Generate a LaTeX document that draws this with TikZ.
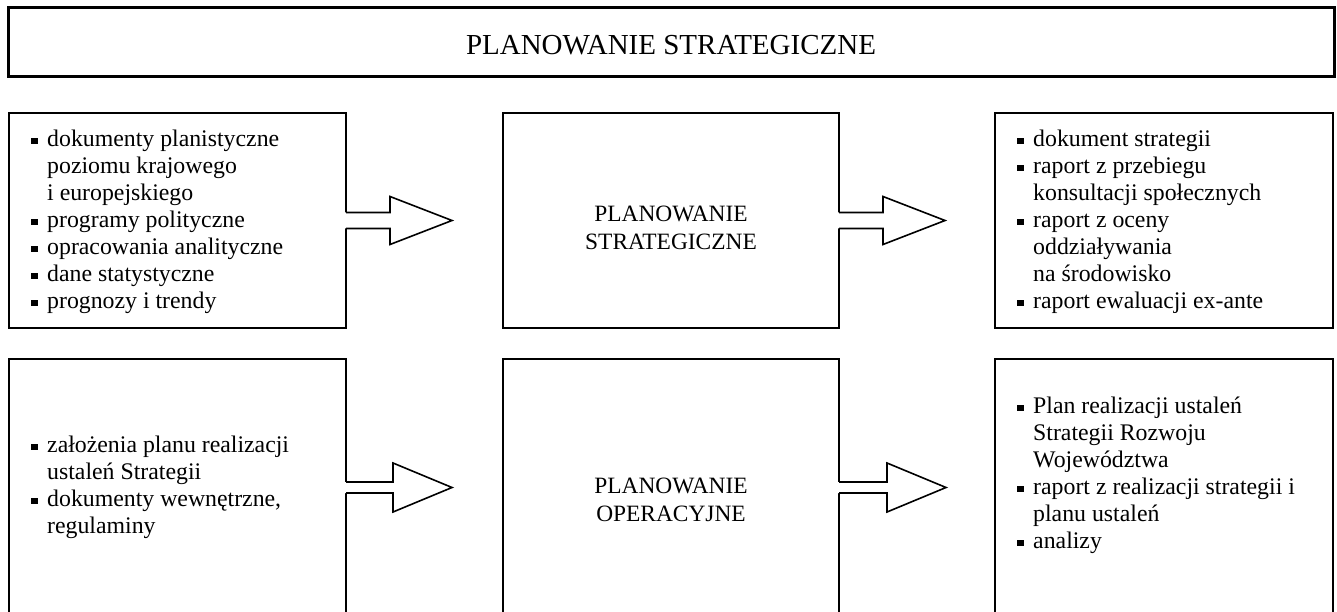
\documentclass[tikz,border=0pt]{standalone}
\usepackage{fontspec}
\setmainfont{Liberation Serif}
\usetikzlibrary{calc}

\newcommand{\itm}{\makebox[16pt][l]{\raisebox{2.5pt}{\rule{6.5pt}{6.5pt}}}}
\newcommand{\ind}{\hspace*{16pt}}

\begin{document}
\begin{tikzpicture}[x=1pt,y=-1pt,
  box/.style={draw,line width=1.6pt,outer sep=0pt,inner sep=0pt},
  listtext/.style={align=left,inner sep=0pt,anchor=west,font=\fontsize{23.8}{27}\selectfont},
  midtext/.style={align=center,inner sep=0pt,font=\fontsize{23.4}{28}\selectfont},
  arrowline/.style={line width=1.6pt,line join=miter}]

\useasboundingbox (0,0) rectangle (1337,612);
\clip (0,0) rectangle (1337,612);
\fill[white] (0,0) rectangle (1337,612);

% title
\node[box,line width=3pt,minimum width=1326pt,minimum height=69pt] (title) at (671,42.5) {};
\node[font=\fontsize{29}{32}\selectfont,inner sep=0pt] (titletxt) at (671,45) {PLANOWANIE STRATEGICZNE};

% strategic row
\node[box,minimum width=337pt,minimum height=215pt] (inS) at (177.5,220.5) {};
\node[listtext] (inStxt) at ($(inS.west)+(22,1.5)$)
  {\itm dokumenty planistyczne\\\ind poziomu krajowego\\\ind i europejskiego\\
   \itm programy polityczne\\\itm opracowania analityczne\\
   \itm dane statystyczne\\\itm prognozy i trendy};
\node[box,minimum width=336pt,minimum height=215pt] (planS) at (671,220.5) {};
\node[midtext] (planStxt) at (671,228) {PLANOWANIE\\STRATEGICZNE};
\node[box,minimum width=338pt,minimum height=215pt] (outS) at (1164,220.5) {};
\node[listtext] (outStxt) at ($(outS.west)+(22,1.5)$)
  {\itm dokument strategii\\\itm raport z przebiegu\\\ind konsultacji społecznych\\
   \itm raport z oceny\\\ind oddziaływania\\\ind na środowisko\\
   \itm raport ewaluacji ex-ante};

% operational row
\node[box,minimum width=337pt,minimum height=257pt] (inO) at (177.5,487.5) {};
\node[listtext] (inOtxt) at ($(inO.west)+(22,0)$)
  {\itm założenia planu realizacji\\\ind ustaleń Strategii\\
   \itm dokumenty wewnętrzne,\\\ind regulaminy};
\node[box,minimum width=336pt,minimum height=257pt] (planO) at (671,487.5) {};
\node[midtext] (planOtxt) at (671,500) {PLANOWANIE\\OPERACYJNE};
\node[box,minimum width=338pt,minimum height=257pt] (outO) at (1164,487.5) {};
\node[listtext] (outOtxt) at ($(outO.west)+(22,-12)$)
  {\itm Plan realizacji ustaleń\\\ind Strategii Rozwoju\\\ind Województwa\\
   \itm raport z realizacji strategii i\\\ind planu ustaleń\\\itm analizy};

% block arrows
\fill[white] ($(inS.east)+(-2,-8)$) -- ++(46,0) -- ++(0,-16) -- ++(62,24) -- ++(-62,24) -- ++(0,-16) -- ++(-46,0) -- cycle;
\draw[arrowline] ($(inS.east)+(0,-8)$) -- ++(44,0) -- ++(0,-16) -- ++(62,24) -- ++(-62,24) -- ++(0,-16) -- ++(-44,0);

\fill[white] ($(planS.east)+(-2,-8)$) -- ++(46,0) -- ++(0,-16) -- ++(62,24) -- ++(-62,24) -- ++(0,-16) -- ++(-46,0) -- cycle;
\draw[arrowline] ($(planS.east)+(0,-8)$) -- ++(44,0) -- ++(0,-16) -- ++(62,24) -- ++(-62,24) -- ++(0,-16) -- ++(-44,0);

\fill[white] ($(inO.east)+(-2,-5.5)$) -- ++(49,0) -- ++(0,-19) -- ++(59,24.5) -- ++(-59,24.5) -- ++(0,-19) -- ++(-49,0) -- cycle;
\draw[arrowline] ($(inO.east)+(0,-5.5)$) -- ++(47,0) -- ++(0,-19) -- ++(59,24.5) -- ++(-59,24.5) -- ++(0,-19) -- ++(-47,0);

\fill[white] ($(planO.east)+(-2,-5.5)$) -- ++(50,0) -- ++(0,-19) -- ++(59,24.5) -- ++(-59,24.5) -- ++(0,-19) -- ++(-50,0) -- cycle;
\draw[arrowline] ($(planO.east)+(0,-5.5)$) -- ++(48,0) -- ++(0,-19) -- ++(59,24.5) -- ++(-59,24.5) -- ++(0,-19) -- ++(-48,0);

\end{tikzpicture}
\end{document}
